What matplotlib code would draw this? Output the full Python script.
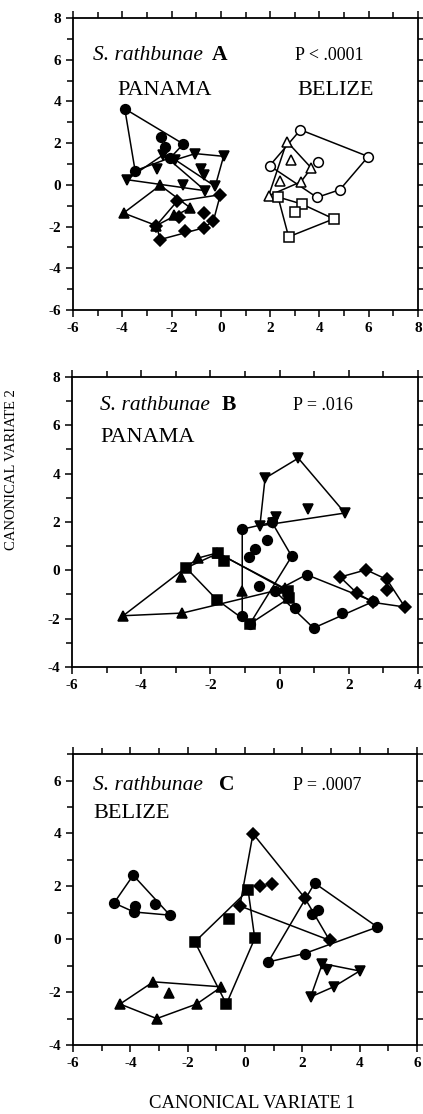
import numpy as np
import matplotlib
matplotlib.use("Agg")
import matplotlib.pyplot as plt
from matplotlib.ticker import MultipleLocator

plt.rcParams['font.family'] = ['Liberation Serif', 'DejaVu Serif']
plt.rcParams['axes.unicode_minus'] = False

# ---- panel A : Panama (filled) vs Belize (open) ----
a_pan1_x = [-3.90, -2.42, -1.52, -2.26, -3.48, -2.05]
a_pan1_y = [3.65, 2.32, 1.96, 1.84, 0.68, 1.30]
a_pan2_x = [-3.82, -2.33, -2.60, -1.52, -0.63]
a_pan2_y = [0.25, 1.45, 0.75, -0.02, -0.28]
a_pan3_x = [-1.85, -1.04, 0.11, -0.80, -0.70, -0.23]
a_pan3_y = [1.20, 1.50, 1.37, 0.78, 0.49, -0.07]
a_pan4_x = [-3.95, -2.46, -1.24, -2.62, -1.90]
a_pan4_y = [-1.35, -0.02, -1.10, -1.95, -1.45]
a_pan5_x = [-2.46, -0.70, -0.30, -0.02, -0.70, -1.78, -1.45, -1.70, -2.62]
a_pan5_y = [-2.62, -2.06, -1.71, -0.47, -1.35, -0.79, -2.22, -1.55, -1.95]
a_bel1_x = [3.23, 5.98, 1.98, 3.95, 4.83, 3.90]
a_bel1_y = [2.64, 1.36, 0.92, 1.11, -0.23, -0.60]
a_bel2_x = [2.68, 2.86, 3.67, 2.41, 1.94, 3.25]
a_bel2_y = [2.08, 1.17, 0.81, 0.20, -0.52, 0.15]
a_bel3_x = [2.32, 3.29, 3.00, 4.58, 2.75]
a_bel3_y = [-0.58, -0.92, -1.30, -1.63, -2.49]
a_xticks = [-6, -4, -2, 0, 2, 4, 6, 8]
a_yticks = [-6, -4, -2, 0, 2, 4, 6, 8]

# ---- panel B : Panama localities ----
b_vtri_x = [0.54, -0.42, 1.89, 0.83, -0.57, -0.10, -0.18]
b_vtri_y = [4.64, 3.81, 2.37, 2.53, 1.84, 2.19, 1.95]
b_circ1_x = [-1.08, -0.37, -0.71, -0.88, 0.35, -0.59, -1.08, -0.86, -0.22]
b_circ1_y = [1.70, 1.24, 0.88, 0.55, 0.58, -0.64, -1.90, -2.22, 1.98]
b_circ2_x = [-0.13, 0.78, 1.79, 0.98, 0.45, 2.71]
b_circ2_y = [-0.87, -0.18, -1.77, -2.39, -1.56, -1.29]
b_tri_x = [-4.52, -2.81, -2.85, -2.35, -1.10, -1.80, 0.15]
b_tri_y = [-1.88, -1.77, -0.28, 0.51, -0.87, 0.72, -0.75]
b_sq_x = [-2.70, -1.77, -1.61, -1.82, -0.86, 0.25, 0.28]
b_sq_y = [0.10, 0.71, 0.40, -1.21, -2.22, -0.87, -1.15]
b_dia_x = [1.75, 2.50, 3.10, 3.10, 3.62, 2.71, 2.23]
b_dia_y = [-0.28, 0.02, -0.38, -0.83, -1.52, -1.33, -0.94]
b_xticks = [-6, -4, -2, 0, 2, 4]
b_yticks = [-4, -2, 0, 2, 4, 6, 8]

# ---- panel C : Belize localities ----
c_circ1_x = [-3.90, -4.57, -3.84, -3.87, -3.14, -2.62]
c_circ1_y = [2.42, 1.37, 1.26, 1.03, 1.35, 0.91]
c_dia_x = [0.28, 0.54, 0.94, -0.18, 2.08, 2.95]
c_dia_y = [3.99, 2.00, 2.10, 1.26, 1.57, -0.04]
c_circ2_x = [2.43, 2.32, 2.55, 4.62, 2.08, 0.81]
c_circ2_y = [2.12, 0.94, 1.09, 0.46, -0.54, -0.86]
c_sq_x = [0.11, -0.55, -1.75, 0.34, -0.65]
c_sq_y = [1.85, 0.78, -0.10, 0.03, -2.45]
c_tri_x = [-4.36, -3.20, -2.64, -1.69, -0.82, -3.08]
c_tri_y = [-2.45, -1.61, -2.02, -2.45, -1.80, -3.00]
c_vtri_x = [2.70, 2.87, 4.00, 3.09, 2.29]
c_vtri_y = [-0.92, -1.17, -1.20, -1.80, -2.18]
c_xticks = [-6, -4, -2, 0, 2, 4, 6]
c_yticks = [-4, -2, 0, 2, 4, 6]


def hull(xs, ys):
    pts = sorted(set(zip(xs, ys)))
    def cross(o, a, b):
        return (a[0]-o[0])*(b[1]-o[1]) - (a[1]-o[1])*(b[0]-o[0])
    lower, upper = [], []
    for p in pts:
        while len(lower) >= 2 and cross(lower[-2], lower[-1], p) <= 0:
            lower.pop()
        lower.append(p)
    for p in reversed(pts):
        while len(upper) >= 2 and cross(upper[-2], upper[-1], p) <= 0:
            upper.pop()
        upper.append(p)
    h = lower[:-1] + upper[:-1]
    h.append(h[0])
    return [p[0] for p in h], [p[1] for p in h]


def group(ax, xs, ys, marker, filled=True):
    hx, hy = hull(xs, ys)
    ax.plot(hx, hy, color='black', lw=1.1, zorder=2)
    ms = 6 if marker == 'D' else 7
    ax.plot(xs, ys, linestyle='none', marker=marker, ms=ms,
            mfc='black' if filled else 'white', mec='black', mew=1.1, zorder=3)


def style(ax, xticks, yticks, xlim, ylim):
    ax.set_xticks(xticks)
    ax.set_xticklabels([str(t) for t in xticks], fontweight='bold', fontsize=11)
    ax.set_yticks(yticks)
    ax.set_yticklabels([str(t) for t in yticks], fontweight='bold', fontsize=11)
    ax.xaxis.set_minor_locator(MultipleLocator(1))
    ax.yaxis.set_minor_locator(MultipleLocator(1))
    ax.set_xlim(*xlim)
    ax.set_ylim(*ylim)
    ax.tick_params(which='both', direction='out', top=True, right=True, width=1.1)
    ax.tick_params(which='major', length=5)
    ax.tick_params(which='minor', length=4)
    for s in ax.spines.values():
        s.set_linewidth(1.3)


def title(ax, x, xl, y, letter):
    ax.text(x, y, 'S. rathbunae', transform=ax.transAxes, fontsize=15.5,
            fontstyle='italic', va='center')
    ax.text(xl, y, letter, transform=ax.transAxes, fontsize=15.5,
            fontweight='bold', va='center')


fig = plt.figure(figsize=(4.23, 11.14), dpi=100)

axA = fig.add_axes([0.1726, 0.7217, 0.8156, 0.2621])
group(axA, a_pan1_x, a_pan1_y, 'o')
group(axA, a_pan2_x, a_pan2_y, 'v')
group(axA, a_pan3_x, a_pan3_y, 'v')
group(axA, a_pan4_x, a_pan4_y, '^')
group(axA, a_pan5_x, a_pan5_y, 'D')
group(axA, a_bel1_x, a_bel1_y, 'o', filled=False)
group(axA, a_bel2_x, a_bel2_y, '^', filled=False)
group(axA, a_bel3_x, a_bel3_y, 's', filled=False)
style(axA, a_xticks, a_yticks, (-6, 8), (-6, 8))
title(axA, 0.058, 0.403, 0.873, 'A')
axA.text(0.643, 0.873, 'P < .0001', transform=axA.transAxes, fontsize=13, va='center')
axA.text(0.130, 0.753, 'PANAMA', transform=axA.transAxes, fontsize=16, va='center')
axA.text(0.649, 0.753, 'BELIZE', transform=axA.transAxes, fontsize=16, va='center')

axB = fig.add_axes([0.1702, 0.4013, 0.8180, 0.2603])
group(axB, b_vtri_x, b_vtri_y, 'v')
group(axB, b_circ1_x, b_circ1_y, 'o')
group(axB, b_circ2_x, b_circ2_y, 'o')
group(axB, b_tri_x, b_tri_y, '^')
group(axB, b_sq_x, b_sq_y, 's')
group(axB, b_dia_x, b_dia_y, 'D')
style(axB, b_xticks, b_yticks, (-6, 4), (-4, 8))
title(axB, 0.081, 0.434, 0.903, 'B')
axB.text(0.639, 0.903, 'P = .016', transform=axB.transAxes, fontsize=13, va='center')
axB.text(0.081, 0.793, 'PANAMA', transform=axB.transAxes, fontsize=16, va='center')

axC = fig.add_axes([0.1726, 0.0619, 0.8132, 0.2612])
group(axC, c_circ1_x, c_circ1_y, 'o')
group(axC, c_dia_x, c_dia_y, 'D')
group(axC, c_circ2_x, c_circ2_y, 'o')
group(axC, c_sq_x, c_sq_y, 's')
group(axC, c_tri_x, c_tri_y, '^')
group(axC, c_vtri_x, c_vtri_y, 'v')
style(axC, c_xticks, c_yticks, (-6, 6), (-4, 7))
title(axC, 0.058, 0.424, 0.893, 'C')
axC.text(0.640, 0.893, 'P = .0007', transform=axC.transAxes, fontsize=13, va='center')
axC.text(0.058, 0.797, 'BELIZE', transform=axC.transAxes, fontsize=16, va='center')

fig.text(12 / 423, 1 - 470 / 1114, 'CANONICAL VARIATE 2', rotation=90,
         ha='center', va='center', fontsize=10.5)
fig.text(252 / 423, 1 - 1103 / 1114, 'CANONICAL VARIATE 1',
         ha='center', va='center', fontsize=13.5)

fig.savefig('out.png', dpi=100)
